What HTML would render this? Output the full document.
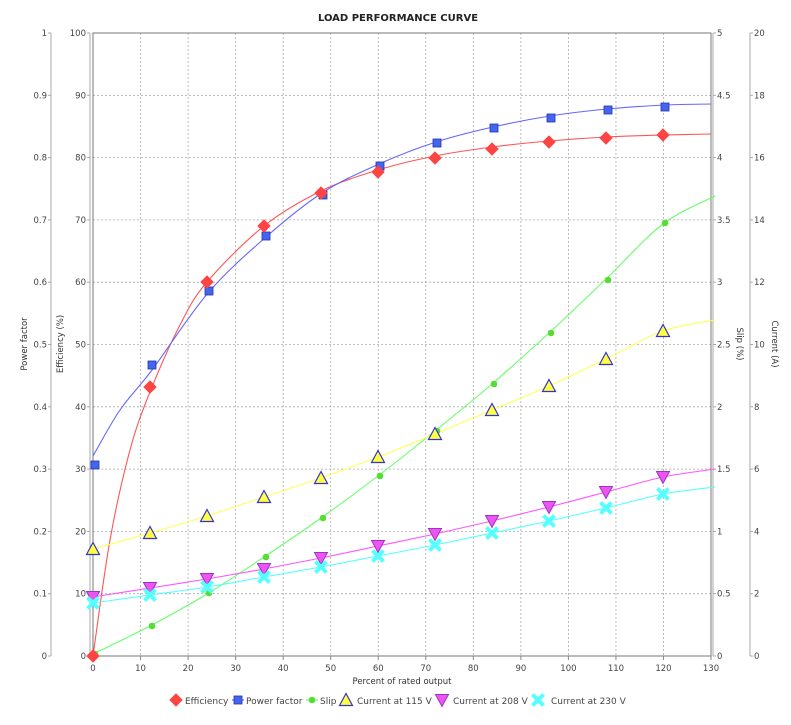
<!DOCTYPE html>
<html><head><meta charset="utf-8"><style>
body{margin:0;background:#fff}
svg{display:block;font-family:"DejaVu Sans","Liberation Sans",sans-serif}
</style></head><body>
<svg width="791" height="725" viewBox="0 0 791 725" xmlns="http://www.w3.org/2000/svg">
<rect width="791" height="725" fill="#fff"/>
<text x="398" y="21" font-size="10" font-weight="bold" text-anchor="middle" fill="#222">LOAD PERFORMANCE CURVE</text>
<g id="grid" stroke="#aaa" stroke-width="0.8" stroke-dasharray="2,2" fill="none"></g>
<rect x="93" y="33" width="618" height="623" fill="none" stroke="#777" stroke-width="1"/>
<g id="axes" font-size="8.5" fill="#444"></g>
<g id="series"></g>
<text x="402" y="684" font-size="8.5" text-anchor="middle" fill="#333">Percent of rated output</text>
<text transform="translate(27,344) rotate(-90)" font-size="8.5" text-anchor="middle" fill="#333">Power factor</text>
<text transform="translate(63,344) rotate(-90)" font-size="8.5" text-anchor="middle" fill="#333">Efficiency (%)</text>
<text transform="translate(737,344) rotate(90)" font-size="8.5" text-anchor="middle" fill="#333">Slip (%)</text>
<text transform="translate(772,344) rotate(90)" font-size="8.5" text-anchor="middle" fill="#333">Current (A)</text>
<g id="legend" font-size="9" fill="#444"></g>
</svg>
<script>
const NS="http://www.w3.org/2000/svg";
function el(p,t,a,txt){const e=document.createElementNS(NS,t);for(const k in a)e.setAttribute(k,a[k]);if(txt!==undefined)e.textContent=txt;p.appendChild(e);return e;}
const g=document.getElementById('grid'),ax=document.getElementById('axes'),s=document.getElementById('series'),lg=document.getElementById('legend');
for(let k=1;k<13;k++){const x=93+47.54*k;el(g,'line',{x1:x,y1:33,x2:x,y2:656});}
for(let k=1;k<10;k++){const y=656-62.3*k;el(g,'line',{x1:93,y1:y,x2:711,y2:y});}
for(let k=0;k<=13;k++){const x=93+47.54*k;el(ax,'text',{x:x,y:671,'text-anchor':'middle'},String(k*10));el(ax,'line',{x1:x,y1:656,x2:x,y2:660,stroke:'#888'});}
el(ax,'line',{x1:51,y1:33,x2:51,y2:656,stroke:'#aaa'});
el(ax,'line',{x1:90,y1:33,x2:90,y2:656,stroke:'#aaa'});
el(ax,'line',{x1:713,y1:33,x2:713,y2:656,stroke:'#aaa'});
el(ax,'line',{x1:750,y1:33,x2:750,y2:656,stroke:'#aaa'});
const pf=['0','0.1','0.2','0.3','0.4','0.5','0.6','0.7','0.8','0.9','1'];
const sl=['0','0.5','1','1.5','2','2.5','3','3.5','4','4.5','5'];
for(let k=0;k<=10;k++){const y=656-62.3*k;
el(ax,'text',{x:47,y:y+3,'text-anchor':'end'},pf[k]);
el(ax,'text',{x:86,y:y+3,'text-anchor':'end'},String(k*10));
el(ax,'text',{x:717,y:y+3},sl[k]);
el(ax,'text',{x:754,y:y+3},String(k*2));
[[48,51],[87,90]].forEach(([a,b])=>el(ax,'line',{x1:a,y1:y,x2:b,y2:y,stroke:'#aaa'}));
[[713,716],[750,753]].forEach(([a,b])=>el(ax,'line',{x1:a,y1:y,x2:b,y2:y,stroke:'#aaa'}));}
const X=[93,150,207,264,321,378,435,492,549,606,663];
function smooth(pts){let d='M'+pts[0].join(',');for(let i=0;i<pts.length-1;i++){const p0=pts[i-1]||pts[i],p1=pts[i],p2=pts[i+1],p3=pts[i+2]||p2;
d+=` C${p1[0]+(p2[0]-p0[0])/6},${p1[1]+(p2[1]-p0[1])/6} ${p2[0]-(p3[0]-p1[0])/6},${p2[1]-(p3[1]-p1[1])/6} ${p2[0]},${p2[1]}`;}return d;}
function curve(pts,c){el(s,'path',{d:smooth(pts),fill:'none',stroke:c,'stroke-width':1.1});}
const eff=[656,387,282,226,193,172,158,149,142,138,135];
const pfv=[465,365,291,236,195,166,143,128,118,110,107];
const slip=[654,626,593,557,518,476,431,384,333,280,223];
const c115=[549,533,516,497,478,457,434,410,386,359,331];
const c208=[597,588,579,569,558,546,534,521,507,492,477];
const c230=[603,595,587,577,567,556,545,533,521,508,494];
curve([[93,656],[110,540],[130,450],[150,392],[180,325],[207,282],[264,226],[321,191],[378,170],[435,156],[492,147],[549,141],[606,137],[663,135],[711,134]],'#ff5555');
curve([[93,456],[120,410],[152,370],[208,293],[266,237],[322,193],[379,164],[436,142],[493,127],[550,116],[607,109],[665,105],[711,104]],'#6666ff');
curve([[93,654],[150,626],[207,594],[264,557],[321,518],[378,476],[435,431],[492,384],[549,333],[606,279],[663,224],[715,196]],'#66ff66');
curve(X.map((x,i)=>[x,c115[i]]).concat([[715,320]]),'#ffff55');
curve(X.map((x,i)=>[x,c208[i]]).concat([[715,469]]),'#ff55ff');
curve(X.map((x,i)=>[x,c230[i]]).concat([[715,487]]),'#55ffff');
function diamond(p,x,y){el(p,'polygon',{points:`${x},${y-6} ${x+6},${y} ${x},${y+6} ${x-6},${y}`,fill:'#ff4444',stroke:'#ff4444'});}
function sq(p,x,y){el(p,'rect',{x:x-4,y:y-4,width:8,height:8,fill:'#4466ee',stroke:'#2233aa','stroke-width':0.8});}
function dot(p,x,y){el(p,'circle',{cx:x,cy:y,r:3.3,fill:'#55dd33'});}
function tri(p,x,y){el(p,'polygon',{points:`${x},${y-6.5} ${x+6.5,0?0:0}${''}`,fill:'none'});el(p,'polygon',{points:`${x},${y-6.5} ${x+6.5},${y+5.5} ${x-6.5},${y+5.5}`,fill:'#ffff44',stroke:'#3333cc','stroke-width':1.2});}
function tdn(p,x,y){el(p,'polygon',{points:`${x-6.5},${y-5.5} ${x+6.5},${y-5.5} ${x},${y+6.5}`,fill:'#ee55ee',stroke:'#9933cc','stroke-width':1});}
function cross(p,x,y){el(p,'path',{d:`M${x-5.5},${y-5.5} L${x+5.5},${y+5.5} M${x+5.5},${y-5.5} L${x-5.5},${y+5.5}`,stroke:'#55ffff','stroke-width':4});}
X.forEach((x,i)=>{dot(s,x+2,slip[i]);sq(s,x+2,pfv[i]);diamond(s,x,eff[i]);tri(s,x,c115[i]);tdn(s,x,c208[i]);cross(s,x,c230[i]);});
const L=[[diamond,176,'#ff5555','Efficiency',185],[sq,238,'#6666ff','Power factor',246],[dot,312,'#66ff66','Slip',320],[tri,346,null,'Current at 115 V',357],[tdn,442,null,'Current at 208 V',453],[cross,538,null,'Current at 230 V',551]];
L.forEach(([f,x,c,t,tx])=>{if(c)el(lg,'line',{x1:x-6,y1:700,x2:x+6,y2:700,stroke:c,'stroke-width':1.2});f(lg,x,700);el(lg,'text',{x:tx,y:704},t);});
</script>
</body></html>
